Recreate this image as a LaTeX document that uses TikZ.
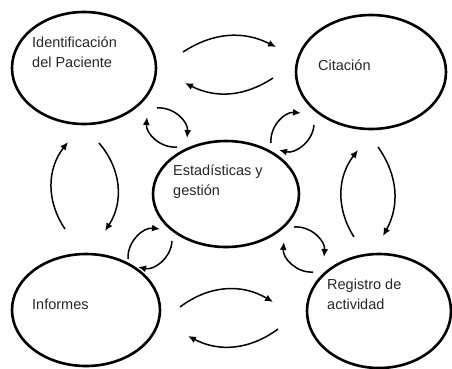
\documentclass[tikz,border=0pt]{standalone}
\usepackage{fontspec}
\setmainfont{Liberation Sans}
\usetikzlibrary{shapes.geometric,arrows.meta,calc}
\begin{document}
\begin{tikzpicture}[x=1pt,y=1pt,
  blob/.style={draw, ellipse, line width=2.6pt, inner sep=0pt},
  lbl/.style={anchor=base west, inner sep=0pt, align=left,
    font=\fontsize{14.5}{20}\selectfont, text=black!85},
  flow/.style={line width=1.5pt, -{Latex[length=8pt,width=7pt]}},
]
\useasboundingbox (0,0) rectangle (452,-368);

% process bubbles
\node[blob, minimum width=144pt, minimum height=112pt] (id)  at (84,-68)  {};
\node[blob, minimum width=150pt, minimum height=114pt] (cit) at (371,-72) {};
\node[blob, minimum width=146pt, minimum height=106pt] (est) at (226,-194) {};
\node[blob, minimum width=148pt, minimum height=112pt] (inf) at (86,-310) {};
\node[blob, minimum width=144pt, minimum height=114pt] (reg) at (379,-311) {};

% bubble captions
\node[lbl] (tid)  at (32,-67)  {Identificación\\del Paciente};
\node[lbl] (tcit) at (318,-70) {Citación};
\node[lbl] (test) at (173,-195) {Estadísticas y\\gestión};
\node[lbl] (tinf) at (32,-309) {Informes};
\node[lbl] (treg) at (327,-309) {Registro de\\actividad};

% exchanges between neighbouring bubbles
\draw[flow] ($(id)+(99,16)$)   to[bend left=30] ($(cit)+(-95,25)$);
\draw[flow] ($(cit)+(-98,-6)$) to[bend left=30] ($(id)+(101,-15)$);
\draw[flow] ($(inf)+(-21,81)$) to[bend left=36] ($(id)+(-16,-74)$);
\draw[flow] ($(id)+(15,-75)$)  to[bend left=37] ($(inf)+(19,79)$);
\draw[flow] ($(reg)+(-25,74)$) to[bend left=35] ($(cit)+(-13,-78)$);
\draw[flow] ($(cit)+(7,-75)$)  to[bend left=32] ($(reg)+(4,75)$);
\draw[flow] ($(inf)+(94,3)$)   to[bend left=34] ($(reg)+(-106,9)$);
\draw[flow] ($(reg)+(-101,-18)$) to[bend left=32] ($(inf)+(102,-26)$);

% exchanges with the central bubble
\draw[flow] ($(id)+(73,-40)$)  to[bend left=50] ($(est)+(-39,56)$);
\draw[flow] ($(est)+(-49,47)$) to[bend left=50] ($(id)+(63,-49)$);
\draw[flow] ($(est)+(45,51)$)  to[bend left=50] ($(cit)+(-70,-41)$);
\draw[flow] ($(cit)+(-57,-53)$) to[bend left=50] ($(est)+(53,44)$);
\draw[flow] ($(inf)+(42,51)$)  to[bend left=50] ($(est)+(-66,-35)$);
\draw[flow] ($(est)+(-54,-47)$) to[bend left=50] ($(inf)+(52,43)$);
\draw[flow] ($(est)+(68,-33)$) to[bend left=50] ($(reg)+(-55,54)$);
\draw[flow] ($(reg)+(-66,39)$) to[bend left=50] ($(est)+(58,-48)$);
\end{tikzpicture}
\end{document}
